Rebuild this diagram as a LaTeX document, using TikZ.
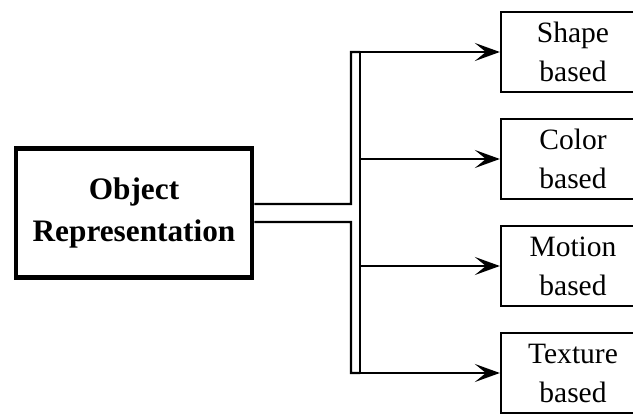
\documentclass[tikz,border=0pt]{standalone}
\usepackage{fontspec}
\setmainfont{Liberation Serif}
\usetikzlibrary{arrows.meta}

\begin{document}
\begin{tikzpicture}[x=0.02cm, y=-0.02cm,
	every node/.style={draw=black, rectangle, align=center, inner sep=0pt},
	sub/.style={line width=1.3pt, minimum width=2.88cm, minimum height=1.6cm, font=\fontsize{16.8pt}{22.2pt}\selectfont},
	line/.style={draw=black, line width=1.3pt},
	arr/.style={line, -{Stealth[length=0.5cm, width=0.36cm, inset=0.22cm]}}]
			\useasboundingbox (0,0) rectangle (633,415);
			\node[line width=2.6pt, minimum width=4.72cm, minimum height=2.58cm, font=\fontsize{17.8pt}{24.4pt}\selectfont\bfseries] (obj) at (134,213) {Object\\Representation};
			\node[sub] (shape) at (573,52) {Shape\\based};
			\node[sub] (color) at (573,159) {Color\\based};
			\node[sub] (motion) at (573,266) {Motion\\based};
			\node[sub] (texture) at (573,373) {Texture\\based};
			
			\coordinate (upin) at ([yshift=0.18cm]obj.east);
			\coordinate (lowin) at ([yshift=-0.18cm]obj.east);
			\coordinate (bartop) at (360,52);
			\coordinate (barbot) at (360,373);
			
			\path[line] (upin) -- (351,204) -- (351,52) -- (bartop);
			\path[line] (lowin) -- (351,222) -- (351,373) -- (barbot);
			\path[line] (bartop) -- (barbot);
			\path[arr] (bartop) -- (shape.west);
			\path[arr] (360,159) -- (color.west);
			\path[arr] (360,266) -- (motion.west);
			\path[arr] (barbot) -- (texture.west);
\end{tikzpicture}
\end{document}
